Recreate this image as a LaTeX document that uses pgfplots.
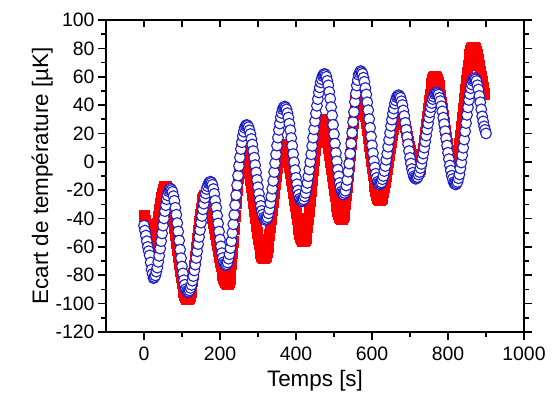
\documentclass[border=0pt]{standalone}
\usepackage{pgfplots}
\usepackage{pgfplotstable}
\usepackage{fontspec}
\setmainfont{Liberation Sans}
\pgfplotsset{compat=1.18}
\definecolor{cblue}{RGB}{30,30,200}
\definecolor{cred}{RGB}{250,0,0}

\pgfplotstableread{
t y
0 -38
2.5 -41
5 -44
7.5 -47.5
10 -51
12.5 -54
15 -57
17.5 -58.5
20 -60
22.5 -59.3
25 -57.8
27.5 -54.9
30 -51.9
32.5 -47.6
35 -43.3
37.5 -38.5
40 -33.7
42.5 -29.4
45 -25.1
47.5 -22.1
50 -19.1
52.5 -17.8
55 -17
57.5 -17.4
60 -18.4
62.5 -20.2
65 -22.4
67.5 -25.4
70 -28.7
72.5 -32.8
75 -37
77.5 -41.8
80 -46.6
82.5 -51.8
85 -57
87.5 -62.2
90 -67.4
92.5 -72.2
95 -77
97.5 -81.2
100 -85.3
102.5 -88.6
105 -91.6
107.5 -93.8
110 -95.6
112.5 -96.6
115 -97
117.5 -96.2
120 -94.8
122.5 -91.9
125 -88.5
127.5 -83.8
130 -78.8
132.5 -72.9
135 -66.9
137.5 -60.5
140 -54.1
142.5 -48.2
145 -42.3
147.5 -37.4
150 -32.5
152.5 -29.2
155 -26.2
157.5 -24.8
160 -24
162.5 -24.3
165 -25.1
167.5 -26.5
170 -28.2
172.5 -30.6
175 -33.1
177.5 -36.3
180 -39.5
182.5 -43.2
185 -46.9
187.5 -51
190 -55
192.5 -59
195 -63.1
197.5 -66.8
200 -70.5
202.5 -73.7
205 -76.9
207.5 -79.5
210 -81.8
212.5 -83.6
215 -85
217.5 -85.7
220 -86
222.5 -84.6
225 -82.4
227.5 -77.6
230 -72
232.5 -64.5
235 -56.3
237.5 -47.2
240 -38
242.5 -28.8
245 -19.7
247.5 -11.5
250 -4
252.5 1.5
255 6.4
257.5 8.8
260 10
262.5 9.6
265 8.4
267.5 6.3
270 3.8
272.5 0.3
275 -3.4
277.5 -8
280 -12.8
282.5 -18.1
285 -23.5
287.5 -29
290 -34.5
292.5 -39.9
295 -45.2
297.5 -50
300 -54.6
302.5 -58.3
305 -61.8
307.5 -64.3
310 -66.4
312.5 -67.4
315 -68
317.5 -67.4
320 -66.1
322.5 -63.5
325 -60.4
327.5 -56.1
330 -51.5
332.5 -46
335 -40.4
337.5 -34.2
340 -28
342.5 -21.8
345 -15.6
347.5 -10
350 -4.5
352.5 0.1
355 4.4
357.5 7.4
360 10.1
362.5 11.3
365 12
367.5 11.5
370 10.6
372.5 8.8
375 6.6
377.5 3.6
380 0.3
382.5 -3.8
385 -7.9
387.5 -12.6
390 -17.2
392.5 -22
395 -26.8
397.5 -31.5
400 -36.1
402.5 -40.2
405 -44.3
407.5 -47.5
410 -50.6
412.5 -52.7
415 -54.6
417.5 -55.5
420 -56
422.5 -55
425 -53.4
427.5 -49.8
430 -45.9
432.5 -40.2
435 -34.5
437.5 -27.5
440 -20.5
442.5 -13
445 -5.5
447.5 1.5
450 8.5
452.5 14.2
455 19.9
457.5 23.7
460 27.4
462.5 28.9
465 30
467.5 29.5
470 28.6
472.5 26.6
475 24.5
477.5 21.3
480 18
482.5 13.8
485 9.6
487.5 4.8
490 0
492.5 -5
495 -10
497.5 -14.8
500 -19.6
502.5 -23.8
505 -28
507.5 -31.3
510 -34.5
512.5 -36.6
515 -38.6
517.5 -39.5
520 -40
522.5 -39
525 -37.3
527.5 -33.4
530 -29.5
532.5 -23.5
535 -17.5
537.5 -10.2
540 -2.8
542.5 5
545 12.8
547.5 20.2
550 27.5
552.5 33.5
555 39.5
557.5 43.4
560 47.3
562.5 48.7
565 50
567.5 49.4
570 48.5
572.5 46.2
575 43.9
577.5 40.4
580 36.8
582.5 32.2
585 27.5
587.5 22.3
590 17
592.5 11.5
595 6
597.5 0.8
600 -4.5
602.5 -9.2
605 -13.8
607.5 -17.4
610 -20.9
612.5 -23.2
615 -25.5
617.5 -26.4
620 -27
622.5 -26.4
625 -25.5
627.5 -23.3
630 -21
632.5 -17.5
635 -14
637.5 -9.7
640 -5.3
642.5 -0.4
645 4.5
647.5 9.4
650 14.3
652.5 18.7
655 23
657.5 26.5
660 30
662.5 32.3
665 34.5
667.5 35.4
670 36
672.5 35.6
675 35
677.5 33.5
680 31.9
682.5 29.5
685 27.1
687.5 24.2
690 21.2
692.5 17.9
695 14.5
697.5 11.2
700 7.8
702.5 4.9
705 1.9
707.5 -0.5
710 -2.9
712.5 -4.5
715 -6
717.5 -6.6
720 -7
722.5 -6.2
725 -5
727.5 -2.1
730 0.8
732.5 5.3
735 9.8
737.5 15.3
740 20.7
742.5 26.5
745 32.3
747.5 37.8
750 43.3
752.5 47.8
755 52.2
757.5 55.1
760 58
762.5 59.2
765 60
767.5 59.4
770 58.4
772.5 56.1
775 53.8
777.5 50.2
780 46.6
782.5 42.1
785 37.6
787.5 32.6
790 27.5
792.5 22.5
795 17.4
797.5 12.9
800 8.4
802.5 4.8
805 1.2
807.5 -1.1
810 -3.4
812.5 -4.4
815 -5
817.5 -4.1
820 -2.9
822.5 0.2
825 3.2
827.5 8
830 12.7
832.5 18.7
835 24.7
837.5 31.4
840 38
842.5 44.7
845 51.3
847.5 57.3
850 63.3
852.5 68.1
855 72.8
857.5 75.9
860 78.9
862.5 80.2
865 81
867.5 80.7
870 80
872.5 78
875 76
877.5 74
880 72
882.5 68
885 64
887.5 60.5
890 57
892.5 52.5
895 48
}\reddata

\pgfplotstableread{
t y
0 -45
2.5 -48.5
5 -52
7.5 -56
10 -60
12.5 -63
15 -66
17.5 -71
20 -76
22.5 -79
25 -82
27.5 -81.3
30 -80.1
32.5 -77.4
35 -74.6
37.5 -70.5
40 -66.3
42.5 -61.2
45 -56
47.5 -50.5
50 -45
52.5 -39.9
55 -34.8
57.5 -30.6
60 -26.4
62.5 -23.7
65 -20.9
67.5 -19.8
70 -19
72.5 -19.9
75 -21.2
77.5 -24.2
80 -27.5
82.5 -32.4
85 -37.3
87.5 -43.2
90 -49.1
92.5 -55.5
95 -61.9
97.5 -67.9
100 -73.8
102.5 -78.7
105 -83.5
107.5 -86.7
110 -89.8
112.5 -91.1
115 -92
117.5 -91.6
120 -90.7
122.5 -88.9
125 -86.8
127.5 -83.8
130 -80.6
132.5 -76.6
135 -72.5
137.5 -67.8
140 -63.1
142.5 -58
145 -53
147.5 -48
150 -42.9
152.5 -38.2
155 -33.5
157.5 -29.5
160 -25.4
162.5 -22.3
165 -19.2
167.5 -17.2
170 -15.3
172.5 -14.5
175 -14
177.5 -14.8
180 -16.2
182.5 -19.2
185 -22.6
187.5 -27.4
190 -32.2
192.5 -37.9
195 -43.5
197.5 -49.2
200 -54.8
202.5 -59.6
205 -64.4
207.5 -67.8
210 -70.8
212.5 -72.1
215 -73
217.5 -72.3
220 -71
222.5 -68.3
225 -65.2
227.5 -60.8
230 -56
232.5 -50.2
235 -44.1
237.5 -37.4
240 -30.5
242.5 -23.5
245 -16.5
247.5 -9.7
250 -2.9
252.5 3.1
255 9
257.5 13.8
260 18.2
262.5 21.3
265 24
267.5 25.3
270 26
272.5 25.5
275 24.4
277.5 22.2
280 19.6
282.5 16.1
285 12.2
287.5 7.6
290 2.9
292.5 -2.3
295 -7.5
297.5 -12.7
300 -17.9
302.5 -22.6
305 -27.2
307.5 -31.1
310 -34.6
312.5 -37.2
315 -39.4
317.5 -40.4
320 -41
322.5 -40.3
325 -39.1
327.5 -36.4
330 -33.4
332.5 -29.1
335 -24.5
337.5 -19
340 -13.4
342.5 -7.2
345 -1
347.5 5.2
350 11.4
352.5 17
355 22.5
357.5 27
360 31.4
362.5 34.4
365 37.1
367.5 38.3
370 39
372.5 38.2
375 37
377.5 34.3
380 31.2
382.5 26.9
385 22.3
387.5 16.8
390 11.3
392.5 5.5
395 -0.3
397.5 -5.8
400 -11.3
402.5 -15.8
405 -20.2
407.5 -23.2
410 -26
412.5 -27.2
415 -28
417.5 -27.4
420 -26.5
422.5 -24.4
425 -22
427.5 -18.5
430 -14.9
432.5 -10.2
435 -5.5
437.5 -0.1
440 5.3
442.5 11.2
445 17
447.5 22.9
450 28.7
452.5 34.1
455 39.5
457.5 44.2
460 48.9
462.5 52.5
465 56
467.5 58.3
470 60.5
472.5 61.4
475 62
477.5 61.3
480 60
482.5 57.1
485 53.9
487.5 49.3
490 44.5
492.5 38.6
495 32.7
497.5 26.1
500 19.5
502.5 12.9
505 6.3
507.5 0.4
510 -5.5
512.5 -10.2
515 -14.9
517.5 -18
520 -21
522.5 -22.2
525 -23
527.5 -21.9
530 -20.4
532.5 -16.7
535 -12.8
537.5 -7
540 -1.3
542.5 5.8
545 12.9
547.5 20.5
550 28.1
552.5 35.2
555 42.3
557.5 48
560 53.8
562.5 57.6
565 61.4
567.5 62.8
570 64
572.5 63.2
575 62.1
577.5 59.3
580 56.4
582.5 52
585 47.5
587.5 42
590 36.4
592.5 30.2
595 24
597.5 17.8
600 11.6
602.5 6.1
605 0.5
607.5 -4
610 -8.4
612.5 -11.3
615 -14.1
617.5 -15.2
620 -16
622.5 -15.3
625 -14.5
627.5 -12.3
630 -10
632.5 -6.5
635 -3
637.5 1.4
640 5.7
642.5 10.6
645 15.5
647.5 20.4
650 25.3
652.5 29.7
655 34
657.5 37.5
660 41
662.5 43.3
665 45.5
667.5 46.4
670 47
672.5 46.2
675 45.2
677.5 42.7
680 40.1
682.5 36.2
685 32.3
687.5 27.5
690 22.6
692.5 17.5
695 12.4
697.5 7.6
700 2.8
702.5 -1.2
705 -5.1
707.5 -7.7
710 -10.2
712.5 -11.2
715 -12
717.5 -11.5
720 -10.8
722.5 -9
725 -7.2
727.5 -4.4
730 -1.5
732.5 2.2
735 5.8
737.5 10
740 14.2
742.5 18.5
745 22.8
747.5 27
750 31.2
752.5 34.9
755 38.5
757.5 41.4
760 44.2
762.5 46
765 47.8
767.5 48.5
770 49
772.5 48.3
775 47.4
777.5 45.1
780 42.8
782.5 39.2
785 35.6
787.5 31.1
790 26.6
792.5 21.6
795 16.5
797.5 11.5
800 6.4
802.5 1.9
805 -2.6
807.5 -6.2
810 -9.8
812.5 -12.1
815 -14.4
817.5 -15.3
820 -16
822.5 -15.2
825 -14.2
827.5 -11.6
830 -8.9
832.5 -4.7
835 -0.5
837.5 4.7
840 9.9
842.5 15.7
845 21.5
847.5 27.3
850 33.1
852.5 38.4
855 43.6
857.5 47.8
860 51.9
862.5 54.6
865 57.2
867.5 58.2
870 59
872.5 58.2
875 57
877.5 54
880 51
882.5 46.5
885 42
887.5 37
890 32
892.5 28.5
895 25
897.5 22.5
900 20
}\bluedata

\begin{document}
\begin{tikzpicture}
\begin{axis}[
  name=main,
  scale only axis,
  width=418bp, height=312bp,
  xmin=-100, xmax=1000,
  ymin=-120, ymax=100,
  xtick={0,200,...,1000},
  ytick={-120,-100,...,100},
  minor x tick num=1,
  minor y tick num=1,
  xtick pos=left,
  ytick pos=both,
  tick align=outside,
  major tick length=8bp,
  minor tick length=4.5bp,
  axis line style={line width=1.6bp},
  every tick/.style={black, line width=1.6bp},
  /pgf/number format/assume math mode=true,
  /pgf/number format/1000 sep={},
  tick label style={font=\fontsize{19.5}{22}\selectfont},
  xticklabel style={yshift=-3bp},
  label style={font=\fontsize{22.5}{26}\selectfont},
  xlabel={Temps [s]},
  ylabel={Ecart de température [µK]},
  xlabel style={yshift=-3bp},
  ylabel style={yshift=-4bp},
  clip=false,
]
\addplot[only marks, mark=square*, mark size=5.2bp,
  mark options={fill=cred, draw=cred, line width=0.4bp}]
  table[x=t, y=y] {\reddata};
\addplot[only marks, mark=*, mark size=5.4bp,
  mark options={fill=white, draw=cblue, line width=1.1bp}]
  table[x=t, y=y] {\bluedata};
\end{axis}
\begin{axis}[
  scale only axis,
  width=418bp, height=312bp,
  at={(main.south west)}, anchor=south west,
  xmin=-100, xmax=1000,
  ymin=-120, ymax=100,
  axis x line*=top,
  axis y line=none,
  xtick={0,100,...,900},
  xticklabels={},
  tick align=inside,
  major tick length=7bp,
  axis line style={line width=1.6bp},
  every tick/.style={black, line width=1.6bp},
]
\end{axis}
\path (main.south west) ++(-106bp,-69bp) rectangle ++(553bp,401bp);
\end{tikzpicture}
\end{document}
